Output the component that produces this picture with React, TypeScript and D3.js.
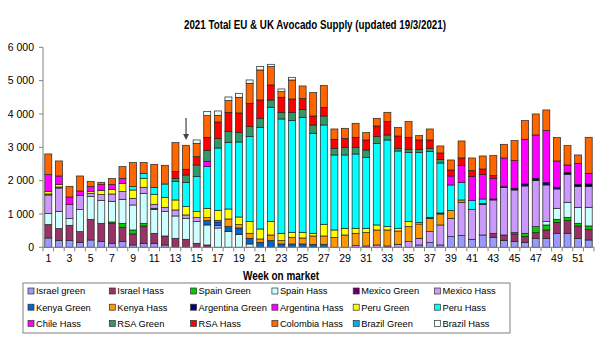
import React from 'react';
import * as d3 from 'd3';

const weeks: number[] = d3.range(1, 53);

const seriesNames = [
  'Israel green', 'Israel Hass', 'Spain Green', 'Spain Hass', 'Mexico Green', 'Mexico Hass',
  'Kenya Green', 'Kenya Hass', 'Argentina Green', 'Argentina Hass', 'Peru Green', 'Peru Hass',
  'Chile Hass', 'RSA Green', 'RSA Hass', 'Colombia Hass', 'Brazil Green', 'Brazil Hass',
];

const israelGreen = [280,210,210,150,220,170,120,170,70,120,120,70,0,0,0,0,0,0,0,0,0,0,0,0,0,0,0,0,0,0,0,0,0,0,0,70,140,70,320,350,240,370,300,200,170,140,270,270,420,420,270,220];
const israelHass = [400,350,450,320,620,550,600,430,330,520,300,270,270,240,120,70,0,0,0,0,0,0,0,0,0,0,0,0,0,0,0,0,0,0,0,0,0,0,0,0,0,0,120,170,230,180,170,250,330,380,370,320];
const spainGreen = [0,0,0,0,0,0,40,120,120,80,0,0,0,0,0,0,0,0,0,0,0,0,0,0,0,0,0,0,0,0,0,0,0,0,0,0,0,0,0,0,0,0,0,0,40,100,180,150,90,100,80,100];
const spainHass = [330,520,200,660,680,680,620,720,750,900,720,730,670,630,650,600,580,470,380,100,0,0,0,0,0,0,0,0,0,0,0,0,0,0,0,0,0,0,0,0,0,0,0,0,0,0,0,100,330,450,480,560];
const mexicoGreen = [0,0,0,0,0,0,0,0,0,0,30,0,0,0,0,0,0,0,0,0,0,0,0,0,0,0,0,0,0,0,0,0,0,0,0,0,0,0,0,0,0,0,0,0,0,0,0,0,0,0,0,0];
const mexicoHass = [560,700,430,430,100,180,220,230,200,180,120,130,180,100,120,0,80,0,0,0,0,0,0,0,0,0,0,0,0,50,40,70,40,90,170,200,330,600,550,1000,900,920,1000,1420,1280,1420,1380,1100,580,840,620,620];
const kenyaGreen = [0,0,0,0,0,0,0,0,0,0,0,0,0,0,0,130,100,150,200,170,150,200,100,100,100,90,90,0,0,0,0,0,0,0,0,0,0,0,0,0,0,0,0,0,0,0,0,0,0,0,0,0];
const kenyaHass = [30,30,0,0,0,0,0,0,0,0,0,0,0,0,0,90,50,230,100,150,100,170,100,200,180,250,250,290,370,370,400,450,480,400,450,430,400,330,230,70,0,0,0,0,0,0,0,0,0,0,0,0];
const argentinaGreen = [0,0,0,0,0,0,0,0,0,0,0,0,0,0,0,0,0,0,0,0,0,0,0,0,0,0,0,0,0,0,0,0,0,0,0,0,30,30,0,0,0,30,30,40,50,60,70,70,50,50,70,80];
const argentinaHass = [0,0,0,0,0,0,0,0,0,0,0,0,0,0,0,0,0,0,0,0,0,0,0,0,0,0,0,0,0,0,0,0,0,0,0,0,0,0,0,0,0,0,0,0,0,0,0,0,0,0,0,0];
const peruGreen = [80,80,0,0,50,120,130,250,250,270,300,300,300,250,180,280,300,300,230,350,300,400,220,150,170,80,350,230,200,150,130,150,100,80,150,40,0,0,0,0,0,0,0,0,0,0,0,0,0,0,0,0];
const peruHass = [0,0,0,0,0,0,0,0,100,150,200,400,550,720,1050,1250,1870,2000,2250,2550,3050,3430,3430,3350,3450,3000,2980,2250,2200,2230,2130,2450,2600,2320,2070,2100,1970,1500,770,530,260,130,0,0,0,0,0,0,0,0,0,0];
const chileHass = [500,250,220,130,150,180,160,150,0,0,0,0,0,0,0,160,0,0,0,0,0,0,0,0,0,0,0,0,0,0,0,0,0,0,0,0,0,0,270,500,720,730,620,850,830,1340,1300,1560,790,230,630,320];
const rsaGreen = [0,0,0,0,0,0,0,0,0,0,0,0,100,230,350,320,280,320,290,300,270,220,200,250,230,250,270,200,230,200,220,200,150,80,100,100,100,100,0,0,0,0,0,0,0,0,0,0,0,0,0,0];
const rsaHass = [0,0,0,0,0,0,0,0,0,0,0,0,200,170,250,400,500,580,580,700,550,450,450,400,330,270,250,270,270,300,300,320,400,370,360,280,250,200,180,230,180,170,80,0,0,0,0,0,0,0,0,0];
const colombiaHass = [620,450,320,450,150,70,170,350,720,320,700,560,870,720,400,650,200,350,470,600,900,550,170,570,380,700,660,310,300,420,220,230,280,250,470,130,330,210,300,510,380,390,600,410,600,560,630,620,700,580,250,1080];
const brazilGreen = [0,0,0,0,0,0,0,0,0,0,0,0,0,0,0,0,0,0,0,0,0,0,0,0,0,0,0,0,0,0,0,0,0,0,0,0,0,0,0,0,0,0,0,0,0,0,0,0,0,0,0,0];
const brazilHass = [0,0,0,0,0,0,0,0,0,0,0,0,0,0,100,120,130,110,120,100,100,70,80,80,0,0,0,0,0,0,0,0,0,0,0,0,0,0,0,0,0,0,0,0,0,0,0,0,0,0,0,0];

const seriesValues = [
  israelGreen, israelHass, spainGreen, spainHass, mexicoGreen, mexicoHass,
  kenyaGreen, kenyaHass, argentinaGreen, argentinaHass, peruGreen, peruHass,
  chileHass, rsaGreen, rsaHass, colombiaHass, brazilGreen, brazilHass,
];

const yTicks = [0, 1000, 2000, 3000, 4000, 5000, 6000];
const arrowWeek = 14;

const title = '2021 Total EU & UK Avocado Supply (updated 19/3/2021)';
const xTitle = 'Week on market';

const colors = [
  '#9999FF', '#993366', '#00CC00', '#CCFFFF', '#660066', '#CC99FF',
  '#0066CC', '#FF9900', '#000080', '#FF00FF', '#FFFF00', '#00FFFF',
  '#FF00FF', '#339966', '#FF0000', '#FF6600', '#00B0F0', '#EAFFFF',
];

const W = 600, H = 350;
const plotLeft = 43, plotRight = 594, plotTop = 47.3, plotBottom = 247.3;
const FONT = "'Liberation Sans', Arial, sans-serif";

export default function App() {
  const data = weeks.map((w, i) => {
    const o: any = { week: w };
    seriesNames.forEach((n, j) => { o[n] = seriesValues[j][i]; });
    return o;
  });
  const stacked = d3.stack<any>().keys(seriesNames)(data);

  const x = d3.scaleBand<number>().domain(weeks).range([plotLeft, plotRight]).paddingInner(0.34).paddingOuter(0.17);
  const y = d3.scaleLinear().domain([0, 6000]).range([plotBottom, plotTop]);
  const fmt = (v: number) => d3.format(',')(v).replace(/,/g, ' ');
  const step = x.step();

  const legendX0 = 31, legendColW = 81.3, legendY0 = 291, legendRowH = 16.2;

  const ax = (x(arrowWeek) as number) + x.bandwidth() / 2;

  return (
    <svg width={W} height={H} style={{ position: 'absolute', left: 0, top: 0, background: '#fff' }}>
      <rect x={0} y={0} width={W} height={H} fill="#fff" />
      <text x={315} y={29} textAnchor="middle" fontFamily={FONT} fontWeight="bold" fontSize={12}
        textLength={262} lengthAdjust="spacingAndGlyphs">{title}</text>

      {/* y axis */}
      <line x1={plotLeft} x2={plotLeft} y1={plotTop} y2={plotBottom} stroke="#808080" strokeWidth={1} />
      {yTicks.map(t => (
        <g key={t}>
          <line x1={plotLeft - 4} x2={plotLeft} y1={y(t)} y2={y(t)} stroke="#808080" />
          <text x={plotLeft - 9} y={y(t) + 3.8} textAnchor="end" fontFamily={FONT} fontSize={10.5}>{fmt(t)}</text>
        </g>
      ))}

      {/* bars */}
      {stacked.map((s, si) => (
        <g key={s.key} fill={colors[si]}>
          {s.map((d, i) => {
            const v = d[1] - d[0];
            if (v <= 0) return null;
            return (
              <rect key={i} x={x(weeks[i])} width={x.bandwidth()} y={y(d[1])} height={y(d[0]) - y(d[1])}
                stroke="#222" strokeWidth={0.7} />
            );
          })}
        </g>
      ))}

      {/* x axis */}
      <line x1={plotLeft} x2={plotRight} y1={plotBottom} y2={plotBottom} stroke="#808080" />
      {weeks.map((w, i) => (
        <line key={'t' + w} x1={plotLeft + i * step} x2={plotLeft + i * step} y1={plotBottom} y2={plotBottom + 4} stroke="#808080" />
      ))}
      <line x1={plotRight} x2={plotRight} y1={plotBottom} y2={plotBottom + 4} stroke="#808080" />
      {weeks.filter(w => w % 2 === 1).map(w => (
        <text key={'l' + w} x={(x(w) as number) + x.bandwidth() / 2} y={262} textAnchor="middle" fontFamily={FONT} fontSize={10.5}>{w}</text>
      ))}

      {/* arrow */}
      <line x1={ax} x2={ax} y1={118} y2={136} stroke="#444" strokeWidth={1.2} />
      <path d={`M${ax - 3},${134} L${ax + 3},${134} L${ax},${140} Z`} fill="#444" />

      <text x={281} y={280} textAnchor="middle" fontFamily={FONT} fontWeight="bold" fontSize={12}
        textLength={76} lengthAdjust="spacingAndGlyphs">{xTitle}</text>

      {/* legend */}
      <rect x={23} y={283} width={487} height={50} fill="#fff" stroke="#808080" strokeWidth={1} />
      {seriesNames.map((n, i) => {
        const col = i % 6, row = Math.floor(i / 6);
        const lx = legendX0 + col * legendColW;
        const ly = legendY0 + row * legendRowH;
        return (
          <g key={n}>
            <rect x={lx - 3} y={ly - 3} width={6} height={6} fill={colors[i]} stroke="#333" strokeWidth={0.7} />
            <text x={lx + 5} y={ly + 3.3} fontFamily={FONT} fontSize={9.3}>{n}</text>
          </g>
        );
      })}
    </svg>
  );
}
